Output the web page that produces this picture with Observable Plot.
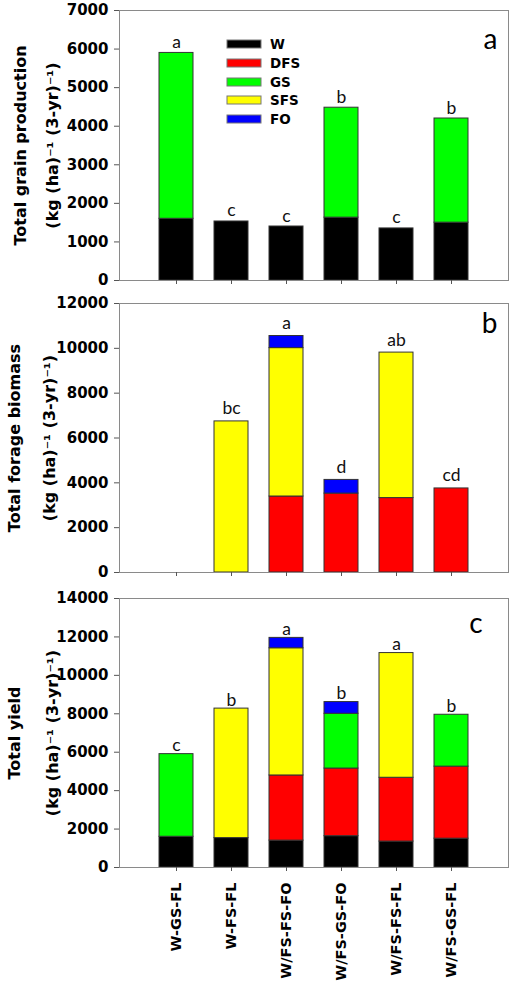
<!DOCTYPE html>
<html>
<head>
<meta charset="utf-8">
<script src="https://cdn.jsdelivr.net/npm/d3@7"></script>
<script src="https://cdn.jsdelivr.net/npm/@observablehq/plot@0.6"></script>
<style>
  html, body { margin: 0; padding: 0; background: #fff; }
  #chart { position: relative; width: 510px; height: 985px; overflow: hidden; }
  #chart > svg { display: block; }
  #legendBox { position: absolute; left: 227px; top: 34.6px; }
  #legendBox .lg-swatches { font: bold 13.5px "DejaVu Sans", sans-serif !important; margin: 0 !important; min-height: 0 !important; columns: 1 !important; }
  #legendBox .lg-swatch { display: flex !important; align-items: center !important; height: 18.8px !important; margin: 0 !important; padding: 0 !important; }
  #legendBox .lg-swatch svg { margin: 0 9px 0 0 !important; overflow: visible; }
  #legendBox .lg-swatch svg rect { stroke: #777; stroke-width: 1; }
  #legendBox .lg-label { color: #000; }
</style>
</head>
<body>
<div id="chart"></div>
<script>
// ---- data ----
const rotations = ["W-GS-FL", "W-FS-FL", "W/FS-FS-FO", "W/FS-GS-FO", "W/FS-FS-FL", "W/FS-GS-FL"];
const components = ["W", "DFS", "GS", "SFS", "FO"];
const componentColors = ["#000000", "#ff0000", "#00ff00", "#ffff00", "#0000ff"];
const W   = [1600, 1530, 1400, 1630, 1350, 1500];
const DFS = [0, 0, 3390, 3520, 3320, 3750];
const GS  = [4300, 0, 0, 2850, 0, 2700];
const SFS = [0, 6740, 6620, 0, 6490, 0];
const FO  = [0, 0, 540, 610, 0, 0];
const lettersGrain  = ["a", "c", "c", "b", "c", "b"];
const lettersForage = ["", "bc", "a", "d", "ab", "cd"];
const lettersTotal  = ["c", "b", "a", "b", "a", "b"];
const yTicksGrain  = [0, 1000, 2000, 3000, 4000, 5000, 6000, 7000];
const yTicksForage = [0, 2000, 4000, 6000, 8000, 10000, 12000];
const yTicksTotal  = [0, 2000, 4000, 6000, 8000, 10000, 12000, 14000];

const componentValues = {W, DFS, GS, SFS, FO};
const rows = [];
rotations.forEach((r, i) => components.forEach(c => rows.push({rotation: r, component: c, value: componentValues[c][i]})));

const FONT = "'DejaVu Sans', sans-serif";
const LETTER_FONT = "Lato, 'Open Sans', sans-serif";

function panel(o) {
  const bars = rows.filter(d => o.keys.includes(d.component) && d.value > 0);
  const totals = rotations.map((r, i) => ({
    rotation: r,
    total: d3.sum(o.keys, k => componentValues[k][i]),
    letter: o.letters[i]
  })).filter(d => d.letter);
  const xAxis = o.showX
    ? Plot.axisX({tickSize: 4, tickPadding: 11, tickRotate: -90, label: null, fontSize: 14.5, fontWeight: "bold", stroke: "#555"})
    : Plot.axisX({tickSize: 4, tickFormat: () => "", label: null, stroke: "#555"});
  return Plot.plot({
    width: 510,
    height: o.height,
    marginTop: o.marginTop,
    marginBottom: o.marginBottom,
    marginLeft: 119,
    marginRight: 2,
    style: {fontFamily: FONT, background: "white", color: "black", overflow: "visible"},
    x: {domain: rotations, paddingInner: 0.39, paddingOuter: 0.695},
    y: {domain: [0, o.yMax]},
    color: {domain: components, range: componentColors},
    marks: [
      Plot.barY(bars, {x: "rotation", y: "value", fill: "component", stroke: "#333", strokeWidth: 1}),
      Plot.frame({stroke: "#8a8a8a"}),
      Plot.axisY({ticks: o.yTicks, tickFormat: d => String(d), tickSize: 5, tickPadding: 6, label: null, fontSize: 15, fontWeight: "bold", stroke: "#555"}),
      xAxis,
      Plot.text(totals, {x: "rotation", y: "total", text: "letter", lineAnchor: "bottom", dy: -o.letterDy, fontSize: 17.5, fontFamily: LETTER_FONT, fill: "#111"}),
      Plot.text([o.tag], {frameAnchor: "top-right", text: d => d, textAnchor: "end", lineAnchor: "bottom", dx: o.tagDx, dy: o.tagDy, fontSize: 28, fontFamily: LETTER_FONT}),
      Plot.text([o.title1], {frameAnchor: "left", text: d => d, rotate: -90, textAnchor: "middle", lineAnchor: "middle", dx: o.t1dx, fontSize: 16, fontWeight: "bold"}),
      Plot.text([o.title2], {frameAnchor: "left", text: d => d, rotate: -90, textAnchor: "middle", lineAnchor: "middle", dx: o.t2dx, fontSize: 16, fontWeight: "bold"})
    ]
  });
}

const chart = document.getElementById("chart");

const plotA = panel({
  keys: ["W", "GS"], letters: lettersGrain, yTicks: yTicksGrain, yMax: 7000,
  title1: "Total grain production", title2: "(kg (ha)⁻¹ (3-yr)⁻¹)",
  t1dx: -99, t2dx: -67, letterDy: 5, tag: "a", tagDx: -11, tagDy: 38,
  height: 292, marginTop: 10, marginBottom: 12, showX: false
});
const plotB = panel({
  keys: ["DFS", "SFS", "FO"], letters: lettersForage, yTicks: yTicksForage, yMax: 12000,
  title1: "Total forage biomass", title2: "(kg (ha)⁻¹ (3-yr)⁻¹)",
  t1dx: -104.5, t2dx: -70, letterDy: 7, tag: "b", tagDx: -11, tagDy: 29,
  height: 294, marginTop: 11, marginBottom: 14, showX: false
});
const plotC = panel({
  keys: components, letters: lettersTotal, yTicks: yTicksTotal, yMax: 14000,
  title1: "Total yield", title2: "(kg (ha)⁻¹ (3-yr)⁻¹)",
  t1dx: -104.5, t2dx: -67, letterDy: 3, tag: "c", tagDx: -26, tagDy: 34,
  height: 399, marginTop: 12, marginBottom: 118, showX: true
});

chart.append(plotA, plotB, plotC);

const legend = Plot.legend({
  color: {domain: components, range: componentColors},
  legend: "swatches",
  columns: 1,
  swatchWidth: 34,
  swatchHeight: 8,
  className: "lg"
});
const box = document.createElement("div");
box.id = "legendBox";
box.append(legend);
chart.append(box);
</script>
</body>
</html>
